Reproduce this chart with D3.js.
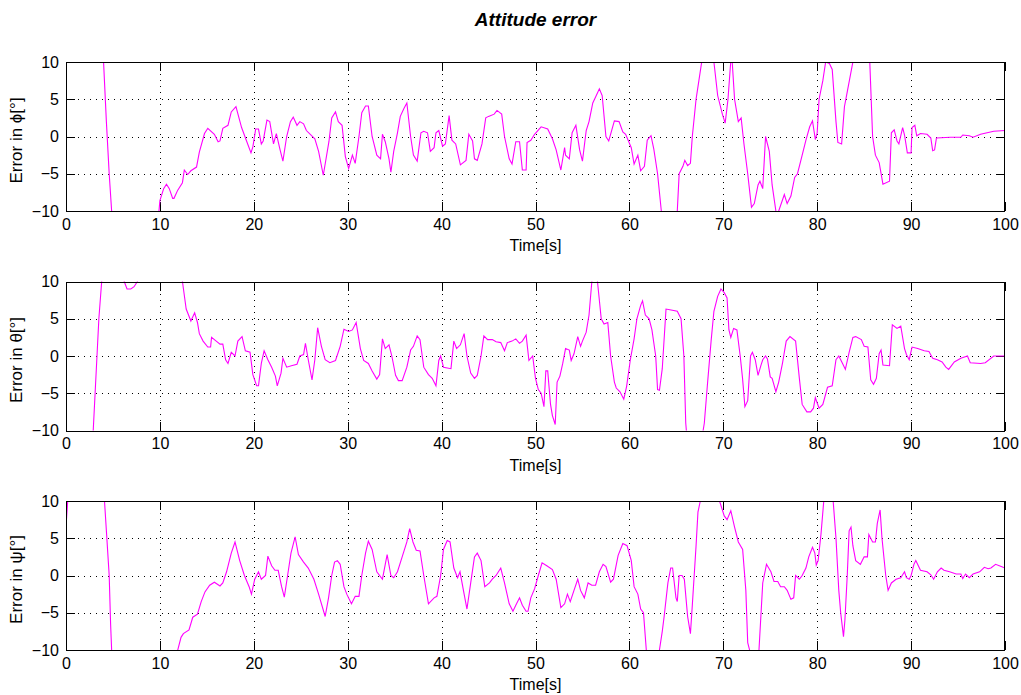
<!DOCTYPE html>
<html>
<head>
<meta charset="UTF-8">
<title>Attitude error</title>
<script src="https://d3js.org/d3.v7.min.js"></script>
<style>
  body { margin: 0; background: #fff; }
  text { font-family: "Liberation Sans", Arial, sans-serif; fill: #000; }
  .axis line { stroke: #000; shape-rendering: crispEdges; }
  .axis path { display: none; }
  .axis text { font-size: 16px; }
  .grid line { stroke: #000; stroke-dasharray: 1,5; shape-rendering: crispEdges; }
  .box { fill: none; stroke: #000; shape-rendering: crispEdges; }
</style>
</head>
<body>
<svg id="chart" width="1021" height="695"></svg>
<script>

// ticks
const xTicks = [0, 10, 20, 30, 40, 50, 60, 70, 80, 90, 100];
const yTicks = [-10, -5, 0, 5, 10];
const yLabels = ["Error in \u03d5[\u00b0]", "Error in \u03b8[\u00b0]", "Error in \u03c8[\u00b0]"];

// roll error [time s, deg], values outside +-10 are clipped
const phiData = [[0,40],[3.6,16],[4.0,10],[4.3,2],[4.6,-5],[4.86,-10],[5.1,-16],[7,-30],[9.6,-14],[9.9,-10],[10,-8.6],[10.4,-7],[10.7,-6.4],[11,-7],[11.36,-8.3],[11.5,-8.3],[11.9,-7.2],[12.4,-6.2],[12.6,-4.5],[12.96,-5.1],[13.3,-4.6],[13.9,-4.1],[14.2,-2.1],[14.75,0.4],[15.1,1.1],[15.8,0.3],[16.2,-0.7],[16.4,-0.6],[16.7,1.1],[17.25,1.5],[17.6,3.3],[18.1,4.0],[18.7,1.2],[19.2,-0.5],[19.7,-2.2],[19.9,-1.4],[20.2,1.0],[20.5,1.0],[20.8,-1.0],[21,-0.6],[21.4,2.2],[21.7,2.0],[22.1,-1.0],[22.4,0.4],[22.8,-1.8],[23.1,-3.3],[23.5,0],[23.9,2.0],[24.2,2.6],[24.6,1.5],[24.9,2.0],[25.3,1.7],[25.6,0.8],[26.5,-0.3],[26.9,-2.0],[27.4,-5.2],[28,-0.7],[28.3,2.5],[28.7,3.3],[29,2.0],[29.4,1.5],[29.75,-2.7],[30.1,-4.3],[30.5,-2.5],[30.8,-3.6],[31.2,0],[31.5,3.2],[31.9,4.1],[32.2,4.1],[32.6,0],[33.1,-2.5],[33.5,-3.0],[33.7,0.3],[34,-0.7],[34.4,-3.0],[34.6,-4.8],[34.9,-2.0],[35.3,0.5],[35.6,2.7],[36,3.8],[36.3,4.5],[36.7,0],[37,-2.5],[37.4,-3.3],[37.8,0.5],[38.1,0.7],[38.5,0.5],[38.8,-2.0],[39.2,-1.5],[39.4,0.5],[39.7,0.8],[40.1,-1.3],[40.4,-1.0],[40.8,2.8],[41.1,-0.5],[41.5,-1.0],[42,-3.8],[42.6,-3.2],[42.9,0.3],[43.3,-0.6],[43.5,-3.0],[43.8,-3.2],[44.3,-1.0],[44.7,2.5],[45,2.7],[45.6,3.0],[45.9,3.5],[46.4,3.0],[46.7,0],[47.2,-3.0],[47.5,-3.7],[47.9,-0.7],[48.3,-0.7],[48.6,-4.5],[49,-4.5],[49.1,-0.8],[49.5,-0.5],[49.9,0.3],[50.6,1.3],[51.3,1.0],[51.8,-0.3],[52.2,-1.8],[52.7,-4.5],[53.1,-1.5],[53.2,-2.5],[53.6,-3.0],[53.9,0.5],[54.3,1.5],[54.7,-1.8],[55,-3.3],[55.4,0.8],[55.7,2.0],[56.1,4.5],[56.4,5.3],[56.8,6.4],[57.1,5.5],[57.5,0],[57.8,-0.6],[58.4,2.1],[58.9,2.0],[59.3,0.6],[59.6,0.3],[60.2,-1.5],[60.5,-3.7],[60.9,-2.5],[61.2,-4.6],[61.6,-4.0],[61.9,-0.5],[62.3,0.1],[62.6,-1.7],[63,-5.0],[63.4,-10],[63.7,-15],[64.5,-18],[65.0,-12],[65.1,-10],[65.3,-5.0],[65.7,-4.0],[65.9,-3.2],[66.2,-3.9],[66.5,-3.6],[66.7,0],[67.1,5.0],[67.4,7.5],[67.7,10],[68.3,14],[69,10],[69.4,5.5],[69.9,3.0],[70.2,1.8],[70.5,5.0],[70.7,8.5],[70.85,11],[70.95,10],[71.2,5.0],[71.6,2.0],[71.9,2.5],[72.2,-1.0],[72.6,-5.0],[73,-9.5],[73.3,-9.0],[73.7,-6.5],[73.9,-6.0],[74.2,-7.0],[74.5,0],[74.9,-2.0],[75.2,-6.5],[75.6,-10],[75.75,-11],[75.9,-10],[76.5,-7.8],[76.8,-9.0],[77.2,-8.0],[77.6,-5.5],[77.9,-5.0],[78.3,-3.0],[78.8,-0.5],[79.2,1.3],[79.5,2.1],[79.8,-0.4],[80,0.5],[80.2,5],[80.6,7.5],[80.9,10],[81.3,9.8],[81.6,9.0],[82,2.0],[82.2,-0.8],[82.6,-1.0],[82.9,4.0],[83.2,6.0],[83.8,10],[84.5,16],[85.2,15],[85.6,10],[85.9,0],[86.2,-2.5],[86.6,-3.5],[87,-6.4],[87.7,-6.0],[87.9,0.5],[88.2,0.9],[88.5,-0.6],[88.7,-1.0],[89.1,1.2],[89.3,0.2],[89.6,-2.2],[90,-2.2],[90.1,1.2],[90.4,1.5],[90.6,0.1],[91,0.4],[91.7,0.3],[92.1,-0.2],[92.3,-1.9],[92.5,-1.8],[92.7,-0.2],[94.2,-0.1],[95.3,-0.1],[95.5,0.2],[96.2,0.1],[96.6,-0.1],[97.4,0.3],[98.8,0.7],[100,0.8]];

// pitch error
const thetaData = [[0,-40],[2.6,-16],[2.9,-10],[3.1,-5],[3.3,0],[3.5,5],[3.8,10],[4.5,18],[5.8,14],[6.2,10],[6.5,9.0],[6.9,9.0],[7.25,9.3],[7.6,10],[9,16],[11.5,15],[12.4,10],[12.8,6.3],[13.3,4.7],[13.7,5.8],[14,4.5],[14.2,3.0],[14.6,2.0],[15.1,1.2],[15.4,1.2],[15.5,2.5],[16,2.0],[16.4,1.6],[16.7,1.6],[17,-0.5],[17.25,-1.0],[17.6,0.5],[18,0],[18.3,2.0],[18.75,2.6],[19.1,0.7],[19.6,0.5],[19.9,-2.5],[20.3,-4.0],[20.5,-4.0],[20.8,-1.0],[21.1,0.7],[21.5,-0.5],[21.9,-1.5],[22.3,-2.7],[22.5,-4.0],[22.9,-2.3],[23.1,-0.3],[23.5,-1.5],[24,-1.3],[24.6,-1.1],[24.9,0],[25.3,0.2],[25.5,1.7],[25.8,-0.5],[26.2,-3.2],[26.5,-0.5],[26.8,3.8],[27.2,1.3],[27.6,-0.5],[28.1,-0.9],[28.7,-0.6],[29.2,1.3],[29.6,3.6],[30.1,3.3],[30.5,3.5],[30.9,4.5],[31.35,1.0],[31.7,-0.6],[32.2,-1.0],[32.6,-2.0],[33.1,-3.1],[33.4,-2.5],[33.7,2.3],[34,1.0],[34.4,1.5],[34.7,0],[35.1,-2.6],[35.4,-3.3],[35.8,-3.3],[36.3,-1.5],[36.7,0.8],[37,1.3],[37.4,2.7],[37.7,2.2],[38.1,-1.5],[38.6,-2.5],[39,-3.0],[39.4,-4.0],[39.7,-0.6],[39.9,0],[40.2,-1.5],[41,-1.7],[41.3,2.0],[41.6,1.0],[42,1.5],[42.4,3.0],[42.7,0],[43.1,-2.3],[43.5,-3.0],[43.8,-2.6],[44.2,0],[44.5,2.7],[44.9,2.2],[45.4,2.2],[45.8,1.9],[46.3,1.8],[46.7,0.7],[47,1.8],[47.5,2.0],[47.9,2.3],[48.3,1.7],[48.6,2.0],[49,2.8],[49.3,-0.6],[49.7,0],[50,-3.0],[50.3,-4.5],[50.6,-5.0],[50.9,-6.8],[51.1,-2.0],[51.3,-2.0],[51.6,-6.5],[51.8,-8.0],[52.1,-9.2],[52.3,-3.5],[52.6,-2.7],[52.9,-1.0],[53.2,1.0],[53.6,0.8],[53.8,-0.6],[54.1,0.3],[54.5,2.6],[54.8,1.3],[55,2.0],[55.4,3.2],[55.7,5.5],[56,10],[56.3,12],[56.6,10],[57,5],[57.3,4.3],[57.7,4.5],[58,0],[58.4,-3.5],[58.6,-4.3],[59,-4.8],[59.4,-5.8],[59.7,-4.1],[60.1,-0.5],[60.5,2.3],[60.8,5.0],[61.2,6.8],[61.4,7.4],[61.7,5.5],[62.1,5.0],[62.4,3.5],[62.8,0],[63,-4.5],[63.2,-4.6],[63.5,-1.7],[63.9,6.3],[64.3,6.2],[65.1,6.0],[65.5,5.0],[65.8,0],[66,-9],[66.2,-12],[67,-16],[67.6,-12],[67.98,-9.0],[68.3,-4.0],[68.7,2.0],[69,6.0],[69.4,8.0],[69.75,9.0],[70.1,8.5],[70.4,7.8],[70.6,3.5],[70.8,2.5],[71.1,3.7],[71.45,3.5],[71.8,0],[72.05,-3.0],[72.3,-6.8],[72.6,-6.0],[72.9,0],[73.1,0.5],[73.4,-0.5],[73.7,-2.6],[74,-1.3],[74.2,-0.5],[74.5,0],[74.7,-0.4],[75,-2.8],[75.2,-3.0],[75.6,-4.8],[75.9,-3.5],[76.3,-1.0],[76.7,2.0],[77.1,2.6],[77.7,2.0],[78.1,-3.0],[78.4,-6.5],[78.9,-7.5],[79.3,-7.5],[79.6,-7.0],[79.8,-5.6],[80.2,-7.0],[80.6,-6.5],[81.1,-4.2],[81.6,-4.0],[82,-0.5],[82.3,0],[82.7,-1.0],[83,-1.8],[83.4,0.5],[83.8,2.5],[84.1,2.6],[84.7,2.2],[85,1.3],[85.4,1.2],[85.7,-3.2],[86,-3.8],[86.3,-3.0],[86.6,0.3],[86.8,0.8],[87,-1.2],[87.7,-1.3],[88,4.2],[88.5,3.7],[88.9,4.0],[89.3,1.0],[89.5,0.2],[89.8,-0.5],[90.1,1.2],[90.7,1.0],[91.4,0.7],[91.9,0.6],[92.3,-0.3],[92.8,-0.5],[93.3,-0.8],[93.7,-1.5],[94,-1.8],[94.6,-0.8],[95.3,-0.3],[96,0],[96.3,-0.9],[97.4,-1.0],[97.9,-0.9],[98.8,0],[100,0]];

// yaw error
const psiData = [[0,6.5],[0.18,10],[0.5,16],[2,20],[3.8,15],[4.1,10],[4.3,6.0],[4.6,0],[4.75,-6.5],[4.86,-10],[5.2,-18],[8,-25],[11.5,-14],[11.9,-10],[12.25,-8.3],[12.5,-7.8],[13.1,-7.3],[13.5,-5.6],[14,-5.2],[14.4,-3.5],[14.8,-2.2],[15.3,-1.3],[15.8,-0.9],[16.4,-1.4],[16.7,-1.0],[17.1,0.5],[17.6,3.0],[18,4.5],[18.5,2.0],[19,0],[19.5,-1.5],[19.75,-2.5],[20.1,-0.5],[20.5,0.5],[20.8,-0.5],[21.25,0],[21.5,2.6],[21.9,1.3],[22.25,0.7],[22.6,0.7],[22.96,-1.5],[23.25,-2.9],[23.6,0],[23.96,3.0],[24.4,5.2],[24.75,2.8],[25.3,1.8],[25.8,1.0],[26.4,-0.5],[26.9,-2.5],[27.6,-5.5],[27.96,-3.0],[28.3,0],[28.6,1.8],[28.9,2.0],[29.2,1.5],[29.6,-1.5],[29.9,-2.5],[30.4,-3.8],[30.8,-2.8],[31.2,-2.8],[31.5,0],[31.9,3.0],[32.2,4.6],[32.6,3.5],[33.1,0.5],[33.7,-0.5],[34,1.5],[34.2,2.8],[34.6,0],[34.9,-0.3],[35.3,0.5],[35.8,2.5],[36.3,4.5],[36.6,6.3],[36.95,4.5],[37.3,3.4],[37.7,3.3],[38.1,0],[38.6,-3.8],[39.2,-3.0],[39.5,-2.8],[39.9,0],[40.2,3.5],[40.6,4.7],[40.9,4.5],[41.3,1.0],[41.7,-0.3],[41.96,0.5],[42.4,-2.5],[42.7,-4.5],[43.1,-1.0],[43.5,2.5],[43.8,3.0],[44.2,2.0],[44.6,-1.5],[45.1,-1.0],[45.4,-0.5],[45.8,0],[46.3,1.0],[46.7,-1.0],[47.2,-3.8],[47.6,-4.8],[47.9,-4.0],[48.3,-3.0],[48.6,-4.0],[49,-4.8],[49.2,-4.8],[49.5,-3.0],[49.9,-1.8],[50.3,0],[50.7,1.7],[51.2,1.3],[51.8,0.8],[52.2,-0.5],[52.7,-4.3],[53.1,-3.8],[53.4,-2.5],[53.7,-3.5],[54.1,-2.0],[54.5,-0.5],[54.8,-2.0],[55.2,-3.0],[55.6,-1.0],[56,-1.3],[56.4,-1.3],[56.8,0.5],[57.2,1.5],[57.5,1.2],[58,-0.9],[58.3,-0.5],[58.8,2.7],[59.3,4.3],[59.75,4.0],[60.2,2.0],[60.5,-1.5],[60.9,-2.5],[61.2,-4.5],[61.5,-5.0],[61.8,-10],[62.2,-14],[62.8,-14],[63.2,-10],[63.5,-7.5],[63.7,-5.5],[64.1,-1.0],[64.4,1.0],[64.6,1.0],[64.96,-3.0],[65.1,-3.5],[65.3,0],[65.6,0],[65.85,-0.5],[66.2,-5.5],[66.5,-7.8],[66.7,-4.0],[67.1,4.0],[67.3,8.5],[67.55,10],[68,14],[69,14],[69.6,10],[70.1,8.0],[70.4,7.5],[70.8,8.7],[71.2,6.5],[71.6,4.5],[72.06,3.5],[72.4,-2.0],[72.6,-9.0],[72.8,-10],[73.2,-15],[73.6,-13],[73.8,-10],[74.2,-1.0],[74.6,1.5],[75.07,0.5],[75.4,-0.8],[75.8,-0.8],[76.1,-1.5],[76.5,-1.5],[76.8,-2.0],[77.2,-3.2],[77.5,-3.0],[77.7,0],[78.1,-0.5],[78.4,0],[78.8,1.0],[79.1,2.5],[79.5,3.8],[79.75,3.0],[79.9,1.4],[80.1,2.0],[80.4,5.5],[80.7,10],[81.2,13],[81.7,10],[82,5],[82.3,-2.0],[82.5,-5.0],[82.8,-8.2],[82.95,-6.0],[83.2,0],[83.4,6.0],[83.6,6.5],[83.8,4.0],[84.1,2.0],[84.6,1.5],[85,2.5],[85.35,2.5],[85.5,5.5],[85.9,4.5],[86.2,4.5],[86.4,7.0],[86.7,8.8],[86.9,5.0],[87.3,0],[87.55,-2.0],[87.9,-1.0],[88.4,-0.5],[88.9,-0.3],[89.3,0.5],[89.5,-0.3],[89.8,-0.5],[90,0],[90.3,1.5],[90.5,2.0],[91,0.7],[91.7,0.5],[92.1,0.1],[92.4,-0.5],[92.8,0.5],[93.2,1.0],[93.5,0.7],[94.1,0.5],[94.8,0.2],[95.3,0.2],[95.5,-0.4],[95.8,0.2],[96.2,-0.3],[96.6,0.2],[97.3,0.5],[97.8,1.1],[98.2,0.9],[98.5,1.0],[99,1.5],[99.6,1.2],[100,1.0]];

const series = [phiData, thetaData, psiData];

const svg = d3.select("#chart");
const left = 66, right = 1005, plotH = 149;
const tops = [62, 281.5, 501];
const tick = 9;

svg.append("text")
    .attr("x", (left + right) / 2)
    .attr("y", 26)
    .attr("text-anchor", "middle")
    .style("font-size", "19px")
    .style("font-style", "italic")
    .style("font-weight", "bold")
    .text("Attitude error");

let x = d3.scaleLinear().domain([0, 100]).range([left, right]);

series.forEach(function (data, i) {
    let top = tops[i], bottom = top + plotH;
    let y = d3.scaleLinear().domain([-10, 10]).range([bottom, top]);

    let g = svg.append("g");

    g.append("clipPath")
        .attr("id", "clip" + i)
        .append("rect")
        .attr("x", left).attr("y", top)
        .attr("width", right - left).attr("height", plotH);

    // dotted grid
    let grid = g.append("g").attr("class", "grid");
    grid.selectAll(".vx")
        .data(xTicks.slice(1, -1))
        .enter().append("line")
        .attr("x1", d => Math.round(x(d)) + 0.5).attr("x2", d => Math.round(x(d)) + 0.5)
        .attr("y1", top).attr("y2", bottom);
    grid.selectAll(".hy")
        .data(yTicks.slice(1, -1))
        .enter().append("line")
        .attr("x1", left).attr("x2", right)
        .attr("y1", d => Math.round(y(d)) + 0.5).attr("y2", d => Math.round(y(d)) + 0.5);

    // ticks on all four sides, pointing in
    g.append("g").attr("class", "axis")
        .attr("transform", "translate(0," + bottom + ")")
        .call(d3.axisBottom(x).tickValues(xTicks).tickSize(-tick).tickPadding(7.5));
    g.append("g").attr("class", "axis")
        .attr("transform", "translate(0," + top + ")")
        .call(d3.axisTop(x).tickValues(xTicks).tickSize(-tick).tickFormat(""));
    g.append("g").attr("class", "axis")
        .attr("transform", "translate(" + left + ",0)")
        .call(d3.axisLeft(y).tickValues(yTicks).tickSize(-tick).tickPadding(7));
    g.append("g").attr("class", "axis")
        .attr("transform", "translate(" + right + ",0)")
        .call(d3.axisRight(y).tickValues(yTicks).tickSize(-tick).tickFormat(""));

    g.append("path")
        .datum(data)
        .attr("clip-path", "url(#clip" + i + ")")
        .attr("fill", "none")
        .attr("stroke", "#ff00ff")
        .attr("stroke-width", 1.1)
        .attr("d", d3.line().x(d => x(d[0])).y(d => y(d[1])));

    g.append("rect")
        .attr("class", "box")
        .attr("x", left + 0.5).attr("y", Math.round(top) + 0.5)
        .attr("width", right - left - 1).attr("height", plotH);

    g.append("text")
        .attr("x", (left + right) / 2)
        .attr("y", bottom + 40)
        .attr("text-anchor", "middle")
        .style("font-size", "16px")
        .text("Time[s]");

    g.append("text")
        .attr("transform", "translate(22," + (top + plotH / 2 + 4) + ") rotate(-90)")
        .attr("text-anchor", "middle")
        .style("font-size", "17px")
        .text(yLabels[i]);
});

</script>
</body>
</html>
